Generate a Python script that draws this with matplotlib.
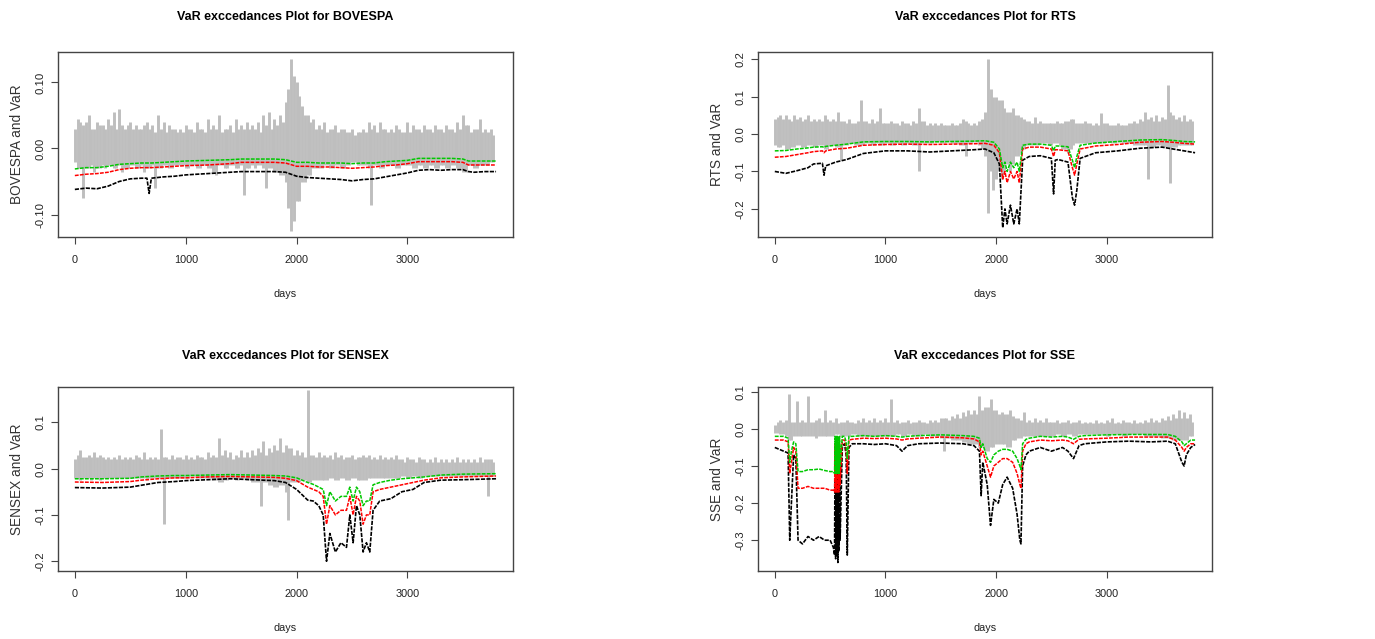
import numpy as np
import matplotlib.pyplot as plt

plt.rcParams['font.family'] = ['Liberation Sans', 'DejaVu Sans']

# daily returns, shown as the high / low of each 25-day slot
ret_days = np.arange(0, 3800, 25)

bovespa_hi = [
    0.03, 0.045, 0.04, 0.035, 0.04, 0.05, 0.03, 0.03, 0.04, 0.035, 0.035, 0.03, 0.045, 0.035, 0.055, 0.03, 0.06, 0.035, 0.03,
    0.035, 0.04, 0.03, 0.035, 0.03, 0.03, 0.035, 0.04, 0.03, 0.035, 0.025, 0.05, 0.03, 0.04, 0.025, 0.035, 0.03, 0.03, 0.025,
    0.03, 0.025, 0.035, 0.03, 0.03, 0.025, 0.04, 0.03, 0.03, 0.025, 0.045, 0.03, 0.035, 0.03, 0.05, 0.025, 0.03, 0.03, 0.035,
    0.025, 0.045, 0.03, 0.035, 0.03, 0.04, 0.03, 0.035, 0.03, 0.04, 0.025, 0.05, 0.035, 0.055, 0.03, 0.045, 0.035, 0.05, 0.04,
    0.07, 0.09, 0.135, 0.11, 0.1, 0.08, 0.065, 0.05, 0.05, 0.04, 0.045, 0.03, 0.035, 0.03, 0.04, 0.025, 0.03, 0.03, 0.035,
    0.025, 0.03, 0.03, 0.025, 0.025, 0.03, 0.02, 0.025, 0.025, 0.03, 0.025, 0.04, 0.03, 0.035, 0.025, 0.04, 0.03, 0.03, 0.025,
    0.03, 0.025, 0.035, 0.03, 0.025, 0.025, 0.04, 0.025, 0.035, 0.03, 0.03, 0.025, 0.035, 0.03, 0.03, 0.025, 0.035, 0.03, 0.03,
    0.025, 0.035, 0.03, 0.03, 0.025, 0.04, 0.03, 0.05, 0.035, 0.035, 0.025, 0.03, 0.03, 0.045, 0.025, 0.03, 0.025, 0.03, 0.02]
bovespa_lo = [
    -0.02, -0.03, -0.03, -0.075, -0.03, -0.03, -0.025, -0.035, -0.03, -0.03, -0.025, -0.03, -0.025, -0.025, -0.03, -0.03, -0.025, -0.035, -0.03,
    -0.03, -0.025, -0.025, -0.03, -0.03, -0.025, -0.035, -0.03, -0.03, -0.025, -0.06, -0.03, -0.03, -0.025, -0.025, -0.03, -0.03, -0.025, -0.025,
    -0.025, -0.025, -0.03, -0.03, -0.025, -0.025, -0.03, -0.03, -0.025, -0.025, -0.03, -0.03, -0.035, -0.04, -0.025, -0.025, -0.03, -0.03, -0.025,
    -0.025, -0.03, -0.03, -0.025, -0.07, -0.03, -0.03, -0.025, -0.03, -0.025, -0.025, -0.03, -0.06, -0.03, -0.03, -0.035, -0.035, -0.04, -0.04,
    -0.05, -0.09, -0.125, -0.11, -0.08, -0.08, -0.05, -0.05, -0.04, -0.04, -0.03, -0.03, -0.03, -0.03, -0.025, -0.025, -0.03, -0.03, -0.025,
    -0.025, -0.03, -0.03, -0.025, -0.025, -0.02, -0.02, -0.025, -0.025, -0.025, -0.025, -0.03, -0.085, -0.025, -0.025, -0.03, -0.03, -0.025, -0.025,
    -0.025, -0.025, -0.03, -0.03, -0.025, -0.025, -0.025, -0.025, -0.03, -0.03, -0.025, -0.025, -0.03, -0.03, -0.025, -0.025, -0.03, -0.03, -0.025,
    -0.025, -0.03, -0.03, -0.025, -0.025, -0.03, -0.03, -0.035, -0.035, -0.025, -0.025, -0.03, -0.03, -0.025, -0.025, -0.025, -0.025, -0.02, -0.02]

rts_hi = [
    0.04, 0.045, 0.05, 0.04, 0.05, 0.04, 0.035, 0.05, 0.04, 0.045, 0.035, 0.04, 0.05, 0.035, 0.04, 0.035, 0.04, 0.035, 0.05,
    0.04, 0.035, 0.04, 0.035, 0.06, 0.035, 0.035, 0.03, 0.04, 0.03, 0.03, 0.035, 0.09, 0.035, 0.035, 0.03, 0.04, 0.03, 0.035,
    0.07, 0.03, 0.03, 0.03, 0.035, 0.03, 0.03, 0.025, 0.035, 0.03, 0.03, 0.025, 0.035, 0.03, 0.07, 0.035, 0.035, 0.025, 0.03,
    0.025, 0.03, 0.025, 0.03, 0.025, 0.025, 0.025, 0.03, 0.025, 0.025, 0.03, 0.04, 0.035, 0.03, 0.025, 0.03, 0.025, 0.035, 0.04,
    0.06, 0.2, 0.12, 0.1, 0.1, 0.09, 0.09, 0.07, 0.06, 0.06, 0.07, 0.05, 0.05, 0.045, 0.04, 0.035, 0.035, 0.03, 0.045,
    0.03, 0.035, 0.03, 0.03, 0.03, 0.03, 0.03, 0.035, 0.03, 0.03, 0.035, 0.035, 0.04, 0.04, 0.03, 0.03, 0.03, 0.035, 0.03,
    0.03, 0.025, 0.03, 0.025, 0.055, 0.03, 0.03, 0.025, 0.025, 0.025, 0.03, 0.025, 0.025, 0.025, 0.03, 0.03, 0.035, 0.03, 0.04,
    0.035, 0.06, 0.04, 0.045, 0.035, 0.05, 0.035, 0.045, 0.04, 0.13, 0.06, 0.05, 0.04, 0.045, 0.035, 0.05, 0.035, 0.04, 0.035]
rts_lo = [
    -0.03, -0.035, -0.035, -0.03, -0.04, -0.04, -0.035, -0.035, -0.03, -0.03, -0.035, -0.035, -0.03, -0.03, -0.035, -0.035, -0.03, -0.03, -0.04,
    -0.04, -0.03, -0.03, -0.035, -0.035, -0.07, -0.03, -0.03, -0.025, -0.025, -0.03, -0.03, -0.03, -0.03, -0.025, -0.025, -0.03, -0.03, -0.025,
    -0.03, -0.03, -0.025, -0.025, -0.03, -0.03, -0.025, -0.025, -0.03, -0.03, -0.025, -0.025, -0.03, -0.03, -0.1, -0.025, -0.025, -0.025, -0.025,
    -0.025, -0.02, -0.02, -0.025, -0.025, -0.02, -0.02, -0.025, -0.025, -0.025, -0.03, -0.03, -0.06, -0.025, -0.025, -0.02, -0.02, -0.03, -0.04,
    -0.06, -0.21, -0.1, -0.15, -0.12, -0.1, -0.12, -0.1, -0.08, -0.1, -0.08, -0.06, -0.06, -0.05, -0.04, -0.03, -0.03, -0.03, -0.03,
    -0.03, -0.025, -0.025, -0.025, -0.03, -0.03, -0.025, -0.025, -0.03, -0.04, -0.04, -0.05, -0.04, -0.03, -0.025, -0.025, -0.025, -0.025, -0.025,
    -0.025, -0.025, -0.025, -0.025, -0.025, -0.025, -0.02, -0.02, -0.025, -0.025, -0.02, -0.02, -0.025, -0.025, -0.025, -0.025, -0.03, -0.03, -0.03,
    -0.03, -0.03, -0.12, -0.035, -0.035, -0.03, -0.03, -0.035, -0.035, -0.035, -0.13, -0.035, -0.035, -0.03, -0.03, -0.03, -0.03, -0.03, -0.03]

sensex_hi = [
    0.02, 0.03, 0.04, 0.025, 0.025, 0.03, 0.025, 0.035, 0.025, 0.03, 0.025, 0.02, 0.025, 0.02, 0.025, 0.02, 0.03, 0.02, 0.025,
    0.02, 0.025, 0.02, 0.03, 0.025, 0.02, 0.035, 0.02, 0.025, 0.02, 0.025, 0.02, 0.085, 0.025, 0.025, 0.02, 0.03, 0.02, 0.025,
    0.025, 0.02, 0.03, 0.02, 0.025, 0.02, 0.03, 0.025, 0.025, 0.02, 0.035, 0.025, 0.03, 0.025, 0.065, 0.03, 0.04, 0.025, 0.035,
    0.02, 0.03, 0.025, 0.04, 0.025, 0.035, 0.025, 0.04, 0.03, 0.045, 0.035, 0.06, 0.03, 0.045, 0.035, 0.05, 0.04, 0.065, 0.035,
    0.05, 0.045, 0.045, 0.03, 0.04, 0.03, 0.035, 0.025, 0.17, 0.03, 0.03, 0.025, 0.035, 0.025, 0.03, 0.025, 0.03, 0.02, 0.035,
    0.025, 0.03, 0.02, 0.025, 0.025, 0.03, 0.02, 0.025, 0.025, 0.03, 0.025, 0.03, 0.02, 0.025, 0.02, 0.03, 0.02, 0.025, 0.02,
    0.025, 0.02, 0.03, 0.02, 0.02, 0.015, 0.025, 0.02, 0.02, 0.015, 0.025, 0.02, 0.02, 0.015, 0.02, 0.015, 0.025, 0.015, 0.02,
    0.015, 0.02, 0.015, 0.02, 0.015, 0.025, 0.015, 0.02, 0.015, 0.02, 0.015, 0.02, 0.015, 0.025, 0.015, 0.02, 0.02, 0.02, 0.015]
sensex_lo = [
    -0.02, -0.02, -0.025, -0.02, -0.02, -0.02, -0.025, -0.02, -0.02, -0.025, -0.02, -0.02, -0.02, -0.02, -0.02, -0.02, -0.02, -0.02, -0.02,
    -0.02, -0.02, -0.02, -0.02, -0.02, -0.02, -0.02, -0.025, -0.02, -0.02, -0.02, -0.02, -0.02, -0.12, -0.02, -0.02, -0.02, -0.02, -0.02,
    -0.02, -0.02, -0.02, -0.02, -0.015, -0.015, -0.02, -0.02, -0.02, -0.02, -0.02, -0.02, -0.025, -0.025, -0.03, -0.03, -0.025, -0.025, -0.02,
    -0.02, -0.025, -0.025, -0.02, -0.02, -0.025, -0.025, -0.03, -0.03, -0.03, -0.08, -0.03, -0.03, -0.035, -0.035, -0.04, -0.04, -0.035, -0.035,
    -0.05, -0.11, -0.03, -0.03, -0.03, -0.03, -0.025, -0.025, -0.03, -0.03, -0.025, -0.025, -0.025, -0.025, -0.025, -0.025, -0.02, -0.02, -0.025,
    -0.025, -0.02, -0.02, -0.025, -0.025, -0.02, -0.02, -0.025, -0.025, -0.025, -0.025, -0.02, -0.02, -0.02, -0.02, -0.02, -0.02, -0.02, -0.02,
    -0.02, -0.02, -0.02, -0.02, -0.015, -0.015, -0.02, -0.02, -0.015, -0.015, -0.02, -0.02, -0.015, -0.015, -0.015, -0.015, -0.015, -0.015, -0.015,
    -0.015, -0.015, -0.015, -0.015, -0.015, -0.015, -0.015, -0.015, -0.015, -0.015, -0.015, -0.015, -0.015, -0.015, -0.015, -0.015, -0.06, -0.015, -0.015]

sse_hi = [
    0.01, 0.02, 0.025, 0.02, 0.025, 0.095, 0.02, 0.02, 0.075, 0.02, 0.025, 0.02, 0.09, 0.02, 0.02, 0.025, 0.03, 0.02, 0.05,
    0.02, 0.025, 0.02, 0.03, 0.015, 0.02, 0.02, 0.025, 0.02, 0.02, 0.015, 0.025, 0.02, 0.03, 0.02, 0.025, 0.02, 0.03, 0.02,
    0.025, 0.02, 0.03, 0.02, 0.08, 0.02, 0.025, 0.015, 0.02, 0.02, 0.025, 0.015, 0.02, 0.02, 0.025, 0.02, 0.02, 0.015, 0.025,
    0.02, 0.025, 0.02, 0.03, 0.03, 0.03, 0.025, 0.035, 0.03, 0.04, 0.03, 0.045, 0.035, 0.05, 0.04, 0.05, 0.04, 0.09, 0.05,
    0.06, 0.06, 0.08, 0.05, 0.05, 0.04, 0.045, 0.04, 0.04, 0.05, 0.035, 0.03, 0.03, 0.025, 0.045, 0.02, 0.025, 0.02, 0.03,
    0.02, 0.025, 0.02, 0.03, 0.02, 0.02, 0.02, 0.025, 0.015, 0.02, 0.02, 0.025, 0.015, 0.02, 0.02, 0.025, 0.015, 0.02, 0.015,
    0.02, 0.015, 0.025, 0.015, 0.02, 0.015, 0.025, 0.02, 0.03, 0.015, 0.02, 0.015, 0.025, 0.02, 0.02, 0.015, 0.025, 0.015, 0.02,
    0.015, 0.025, 0.02, 0.03, 0.02, 0.025, 0.02, 0.03, 0.025, 0.035, 0.025, 0.04, 0.03, 0.05, 0.03, 0.045, 0.03, 0.04, 0.02]
sse_lo = [
    -0.01, -0.01, -0.015, -0.015, -0.02, -0.03, -0.03, -0.02, -0.02, -0.02, -0.02, -0.02, -0.02, -0.02, -0.02, -0.025, -0.02, -0.02, -0.02,
    -0.02, -0.02, -0.02, -0.015, -0.015, -0.02, -0.02, -0.02, -0.02, -0.015, -0.015, -0.02, -0.02, -0.02, -0.02, -0.02, -0.02, -0.02, -0.02,
    -0.02, -0.02, -0.02, -0.02, -0.02, -0.02, -0.015, -0.015, -0.02, -0.02, -0.015, -0.015, -0.02, -0.02, -0.02, -0.02, -0.015, -0.015, -0.02,
    -0.02, -0.02, -0.02, -0.025, -0.06, -0.025, -0.025, -0.03, -0.03, -0.03, -0.03, -0.035, -0.035, -0.04, -0.04, -0.04, -0.04, -0.05, -0.05,
    -0.06, -0.06, -0.05, -0.05, -0.04, -0.04, -0.04, -0.04, -0.05, -0.05, -0.03, -0.03, -0.025, -0.025, -0.02, -0.02, -0.02, -0.02, -0.02,
    -0.02, -0.02, -0.02, -0.02, -0.02, -0.02, -0.02, -0.015, -0.015, -0.02, -0.02, -0.015, -0.015, -0.02, -0.02, -0.015, -0.015, -0.015, -0.015,
    -0.015, -0.015, -0.015, -0.015, -0.015, -0.015, -0.02, -0.02, -0.015, -0.015, -0.015, -0.015, -0.02, -0.02, -0.015, -0.015, -0.015, -0.015, -0.015,
    -0.015, -0.02, -0.02, -0.02, -0.02, -0.02, -0.02, -0.025, -0.025, -0.025, -0.025, -0.03, -0.03, -0.03, -0.03, -0.03, -0.03, -0.02, -0.02]

# VaR lines: green / red / black
bovespa_days = [0, 100, 200, 300, 400, 500, 600, 650, 670, 690, 800, 900, 1000, 1200, 1400, 1500, 1600, 1800, 1900, 2000,
                2100, 2200, 2300, 2400, 2500, 2600, 2700, 2800, 2900, 3000, 3100, 3200, 3300, 3400, 3500, 3550, 3600, 3700, 3799]
bovespa_black = [-0.062, -0.06, -0.061, -0.057, -0.05, -0.046, -0.045, -0.045, -0.068, -0.045, -0.043, -0.042, -0.04, -0.038,
                 -0.036, -0.035, -0.035, -0.035, -0.036, -0.042, -0.044, -0.045, -0.046, -0.047, -0.049, -0.047, -0.046, -0.043,
                 -0.04, -0.037, -0.033, -0.032, -0.033, -0.032, -0.032, -0.035, -0.036, -0.035, -0.035]
bovespa_red = [-0.041, -0.039, -0.038, -0.036, -0.032, -0.03, -0.029, -0.029, -0.029, -0.029, -0.028, -0.027, -0.026, -0.025,
               -0.023, -0.021, -0.021, -0.021, -0.022, -0.027, -0.027, -0.028, -0.028, -0.029, -0.03, -0.029, -0.028, -0.026,
               -0.025, -0.023, -0.02, -0.02, -0.02, -0.02, -0.021, -0.025, -0.025, -0.025, -0.025]
bovespa_green = [-0.031, -0.029, -0.029, -0.027, -0.024, -0.023, -0.022, -0.022, -0.022, -0.022, -0.021, -0.02, -0.019, -0.018,
                 -0.017, -0.016, -0.016, -0.016, -0.017, -0.021, -0.021, -0.022, -0.022, -0.022, -0.023, -0.022, -0.022, -0.02,
                 -0.019, -0.018, -0.015, -0.015, -0.015, -0.015, -0.016, -0.019, -0.019, -0.019, -0.019]

rts_days = [0, 100, 200, 300, 350, 430, 445, 460, 550, 650, 800, 1000, 1200, 1400, 1600, 1800, 1900, 1980, 2030, 2060,
            2080, 2100, 2130, 2160, 2190, 2210, 2240, 2300, 2400, 2500, 2520, 2535, 2560, 2650, 2690, 2710, 2730, 2760,
            2900, 3100, 3300, 3500, 3600, 3700, 3799]
rts_black = [-0.1, -0.105, -0.098, -0.09, -0.08, -0.078, -0.11, -0.085, -0.075, -0.068, -0.052, -0.045, -0.045, -0.048,
             -0.045, -0.042, -0.04, -0.05, -0.08, -0.25, -0.2, -0.24, -0.19, -0.24, -0.2, -0.24, -0.07, -0.06, -0.058,
             -0.065, -0.16, -0.07, -0.068, -0.075, -0.17, -0.19, -0.15, -0.065, -0.05, -0.045, -0.038, -0.035, -0.04,
             -0.045, -0.05]
rts_red = [-0.062, -0.06, -0.055, -0.05, -0.047, -0.045, -0.05, -0.045, -0.04, -0.038, -0.03, -0.028, -0.027, -0.028,
           -0.027, -0.026, -0.025, -0.03, -0.05, -0.12, -0.1, -0.13, -0.1, -0.12, -0.1, -0.13, -0.04, -0.035, -0.035,
           -0.04, -0.06, -0.042, -0.042, -0.045, -0.09, -0.11, -0.08, -0.04, -0.032, -0.028, -0.022, -0.02, -0.022,
           -0.025, -0.027]
rts_green = [-0.045, -0.044, -0.04, -0.037, -0.035, -0.034, -0.036, -0.033, -0.03, -0.027, -0.021, -0.02, -0.02, -0.021,
             -0.02, -0.019, -0.018, -0.022, -0.04, -0.09, -0.075, -0.1, -0.075, -0.09, -0.075, -0.1, -0.03, -0.027, -0.027,
             -0.03, -0.045, -0.032, -0.032, -0.034, -0.07, -0.09, -0.06, -0.03, -0.024, -0.02, -0.016, -0.015, -0.017,
             -0.02, -0.021]

sensex_days = [0, 250, 500, 600, 750, 900, 1000, 1200, 1400, 1600, 1800, 1900, 2000, 2100, 2150, 2200, 2240, 2270, 2300,
               2350, 2400, 2450, 2480, 2510, 2540, 2570, 2600, 2630, 2660, 2690, 2750, 2850, 2950, 3050, 3150, 3300, 3500, 3799]
sensex_black = [-0.041, -0.042, -0.04, -0.036, -0.03, -0.028, -0.026, -0.024, -0.022, -0.024, -0.026, -0.03, -0.045,
                -0.068, -0.07, -0.08, -0.1, -0.2, -0.14, -0.18, -0.16, -0.17, -0.1, -0.16, -0.08, -0.1, -0.18, -0.16,
                -0.18, -0.09, -0.07, -0.065, -0.05, -0.045, -0.03, -0.025, -0.024, -0.022]
sensex_red = [-0.029, -0.03, -0.028, -0.025, -0.022, -0.02, -0.02, -0.018, -0.017, -0.018, -0.019, -0.021, -0.026, -0.04,
              -0.045, -0.05, -0.06, -0.12, -0.08, -0.1, -0.09, -0.09, -0.06, -0.1, -0.06, -0.07, -0.12, -0.1, -0.1, -0.05,
              -0.045, -0.04, -0.035, -0.03, -0.025, -0.02, -0.018, -0.016]
sensex_green = [-0.022, -0.022, -0.021, -0.018, -0.016, -0.015, -0.015, -0.014, -0.013, -0.014, -0.015, -0.016, -0.02,
                -0.03, -0.034, -0.04, -0.045, -0.08, -0.05, -0.07, -0.06, -0.06, -0.04, -0.07, -0.04, -0.05, -0.08, -0.07,
                -0.07, -0.035, -0.03, -0.025, -0.022, -0.02, -0.018, -0.014, -0.012, -0.011]

sse_days = [0, 40, 80, 120, 135, 150, 170, 190, 210, 250, 300, 350, 400, 450, 500, 530, 540, 545, 550, 555, 560, 565,
            570, 575, 580, 585, 590, 610, 630, 645, 655, 670, 700, 800, 900, 1000, 1100, 1150, 1200, 1300, 1500, 1700,
            1800, 1850, 1865, 1880, 1920, 1950, 1980, 2020, 2060, 2100, 2150, 2190, 2215, 2225, 2240, 2270, 2300, 2400,
            2500, 2600, 2650, 2700, 2750, 2800, 3000, 3200, 3400, 3550, 3620, 3680, 3700, 3720, 3760, 3799]
sse_black = [-0.05, -0.055, -0.06, -0.065, -0.3, -0.2, -0.07, -0.08, -0.3, -0.31, -0.29, -0.3, -0.29, -0.3, -0.3,
             -0.32, -0.34, -0.05, -0.35, -0.06, -0.34, -0.05, -0.36, -0.06, -0.33, -0.05, -0.3, -0.05, -0.04, -0.07,
             -0.34, -0.05, -0.04, -0.04, -0.042, -0.04, -0.045, -0.06, -0.045, -0.04, -0.038, -0.04, -0.045, -0.06,
             -0.18, -0.09, -0.15, -0.26, -0.19, -0.2, -0.15, -0.13, -0.16, -0.23, -0.3, -0.31, -0.1, -0.07, -0.06,
             -0.05, -0.06, -0.05, -0.06, -0.08, -0.045, -0.04, -0.035, -0.033, -0.035, -0.033, -0.04, -0.09, -0.1,
             -0.07, -0.05, -0.042]
sse_red = [-0.03, -0.03, -0.03, -0.035, -0.12, -0.09, -0.05, -0.06, -0.16, -0.16, -0.155, -0.16, -0.16, -0.16, -0.165,
           -0.165, -0.17, -0.04, -0.17, -0.04, -0.17, -0.04, -0.17, -0.04, -0.17, -0.04, -0.15, -0.03, -0.03, -0.05,
           -0.12, -0.03, -0.028, -0.025, -0.026, -0.025, -0.027, -0.03, -0.027, -0.025, -0.022, -0.024, -0.027, -0.035,
           -0.07, -0.06, -0.1, -0.13, -0.1, -0.09, -0.08, -0.08, -0.09, -0.12, -0.15, -0.16, -0.06, -0.04, -0.035,
           -0.03, -0.032, -0.03, -0.032, -0.04, -0.028, -0.027, -0.025, -0.022, -0.022, -0.022, -0.03, -0.05, -0.06,
           -0.05, -0.04, -0.04]
sse_green = [-0.02, -0.02, -0.02, -0.025, -0.09, -0.06, -0.035, -0.04, -0.115, -0.115, -0.11, -0.11, -0.108, -0.112,
             -0.115, -0.115, -0.12, -0.02, -0.12, -0.02, -0.12, -0.02, -0.12, -0.02, -0.12, -0.02, -0.1, -0.02, -0.02,
             -0.035, -0.08, -0.02, -0.02, -0.018, -0.02, -0.018, -0.02, -0.022, -0.02, -0.018, -0.016, -0.018, -0.02,
             -0.025, -0.05, -0.04, -0.08, -0.09, -0.07, -0.06, -0.055, -0.055, -0.06, -0.08, -0.1, -0.11, -0.04, -0.028,
             -0.025, -0.02, -0.022, -0.02, -0.022, -0.028, -0.02, -0.018, -0.016, -0.015, -0.015, -0.015, -0.02, -0.035,
             -0.045, -0.04, -0.03, -0.03]


def plot_var(ax, name, hi, lo, days, green, red, black, ylim, yticks, ylabels, title_pad):
    ax.vlines(ret_days, lo, hi, color='#bebebe', lw=2.1)
    ax.plot(days, black, color='black', lw=1.2, dashes=(2.5, 0.8))
    ax.plot(days, red, color='#ff0000', lw=1.1, dashes=(2.5, 0.8))
    ax.plot(days, green, color='#00c800', lw=1.1, dashes=(2.5, 0.8))
    ax.set_xlim(-152, 3952)
    ax.set_ylim(*ylim)
    ax.set_xticks([0, 1000, 2000, 3000])
    ax.set_xticklabels(['0', '1000', '2000', '3000'], fontsize=7.8)
    ax.set_yticks(yticks)
    ax.set_yticklabels(ylabels, rotation=90, va='center', fontsize=8.2)
    ax.tick_params(axis='x', length=5, width=0.8, pad=8, colors='#444444', labelcolor='#222222')
    ax.tick_params(axis='y', length=5, width=0.8, pad=4, colors='#444444', labelcolor='#222222')
    ax.set_xlabel('days', fontsize=7.8, labelpad=17, color='#222222')
    ax.set_ylabel(name + ' and VaR', fontsize=9.8, labelpad=8, color='#333333')
    ax.set_title('VaR exccedances Plot for ' + name, fontsize=9, fontweight='bold', pad=title_pad)
    for s in ax.spines.values():
        s.set_color('#444444')
        s.set_linewidth(1.0)


fig = plt.figure(figsize=(13.75, 6.39), dpi=100)
W, H = 1375, 639
ax1 = fig.add_axes([58 / W, 1 - 237 / H, 455 / W, 185 / H])
ax2 = fig.add_axes([758 / W, 1 - 237 / H, 454 / W, 185 / H])
ax3 = fig.add_axes([58 / W, 1 - 571 / H, 455 / W, 184 / H])
ax4 = fig.add_axes([758 / W, 1 - 571 / H, 454 / W, 184 / H])

plot_var(ax1, 'BOVESPA', bovespa_hi, bovespa_lo, bovespa_days, bovespa_green, bovespa_red, bovespa_black,
         (-0.134, 0.146), [-0.1, 0.0, 0.1], ['-0.10', '0.00', '0.10'], 23)
plot_var(ax2, 'RTS', rts_hi, rts_lo, rts_days, rts_green, rts_red, rts_black,
         (-0.275, 0.219), [-0.2, -0.1, 0.0, 0.1, 0.2], ['-0.2', '-0.1', '0.0', '0.1', '0.2'], 23)
plot_var(ax3, 'SENSEX', sensex_hi, sensex_lo, sensex_days, sensex_green, sensex_red, sensex_black,
         (-0.221, 0.176), [-0.2, -0.1, 0.0, 0.1], ['-0.2', '-0.1', '0.0', '0.1'], 20)
plot_var(ax4, 'SSE', sse_hi, sse_lo, sse_days, sse_green, sse_red, sse_black,
         (-0.383, 0.113), [-0.3, -0.2, -0.1, 0.0, 0.1], ['-0.3', '-0.2', '-0.1', '0.0', '0.1'], 20)

fig.savefig('out.png', dpi=100)
